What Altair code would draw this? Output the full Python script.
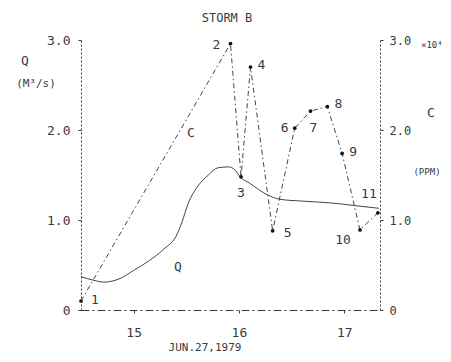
import altair as alt
import pandas as pd

# ---- data ----
Q_TIME = [14.50, 14.62, 14.72, 14.87, 15.00, 15.15, 15.28, 15.42, 15.46, 15.52,
          15.60, 15.71, 15.80, 15.90, 15.96, 16.01, 16.10, 16.27, 16.39, 16.60,
          16.87, 17.10, 17.33]
Q_VALUE = [0.37, 0.33, 0.31, 0.35, 0.44, 0.55, 0.67, 0.86, 0.98, 1.19,
           1.36, 1.50, 1.58, 1.59, 1.56, 1.48, 1.41, 1.28, 1.23, 1.21,
           1.19, 1.16, 1.13]

C_ID = [1, 2, 3, 4, 5, 6, 7, 8, 9, 10, 11]
C_TIME = [14.50, 15.92, 16.02, 16.11, 16.32, 16.53, 16.68, 16.84, 16.98, 17.15, 17.32]
C_VALUE = [0.10, 2.96, 1.48, 2.70, 0.88, 2.02, 2.21, 2.26, 1.74, 0.89, 1.08]  # x10^4 ppm

X_TICKS = [15, 16, 17]
Y_TICKS = [0, 1, 2, 3]

# label offsets (pixels) for the sample numbers
LABEL_DX = [14, -14, 0, 11, 15, -10, 3, 11, 11, -17, -9]
LABEL_DY = [-1, 1, 16, -2, 2, 0, 17, -3, -1, 10, -19]

q_df = pd.DataFrame({"t": Q_TIME, "q": Q_VALUE})
c_df = pd.DataFrame({"id": C_ID, "t": C_TIME, "c": C_VALUE})

FONT = "DejaVu Sans Mono"
INK = "#3a3a3a"

xscale = alt.Scale(domain=[14.5, 17.34], nice=False, zero=False)
yscale = alt.Scale(domain=[0, 3], nice=False)

x_axis = alt.Axis(values=X_TICKS, format="d", title=None, grid=False,
                  domainColor=INK, domainDash=[8, 3, 2, 3], domainWidth=1,
                  tickColor=INK, tickSize=3, labelPadding=13,
                  labelFont=FONT, labelFontSize=13, labelColor=INK)

left_axis = alt.Axis(values=Y_TICKS, title=None, grid=False, orient="left",
                     labelExpr="datum.value == 0 ? '0' : format(datum.value, '.1f')",
                     domainColor=INK, domainDash=[2, 2], domainWidth=1,
                     tickColor=INK, tickSize=3, labelPadding=8,
                     labelFont=FONT, labelFontSize=13, labelColor=INK)

right_axis = alt.Axis(values=Y_TICKS, title=None, grid=False, orient="right",
                      labelExpr="datum.value == 0 ? '0' : format(datum.value, '.1f')",
                      domainColor=INK, domainDash=[2, 2], domainWidth=1,
                      tickColor=INK, tickSize=3, labelPadding=6,
                      labelFont=FONT, labelFontSize=12, labelColor=INK)

X_ENC = alt.X("t:Q", scale=xscale, axis=x_axis)

q_line = alt.Chart(q_df).mark_line(color="#444", strokeWidth=1, interpolate="monotone").encode(
    x=X_ENC,
    y=alt.Y("q:Q", scale=yscale, axis=left_axis),
)

c_line = alt.Chart(c_df).mark_line(color="#444", strokeWidth=1, strokeDash=[5, 3, 1.5, 3]).encode(
    x=X_ENC,
    y=alt.Y("c:Q", scale=yscale, axis=right_axis),
)

c_pts = alt.Chart(c_df).mark_circle(color="#111", size=14, opacity=1).encode(
    x=X_ENC,
    y=alt.Y("c:Q", scale=yscale, axis=None),
)

label_layers = []
for i, cid in enumerate(C_ID):
    label_layers.append(
        alt.Chart(c_df[c_df["id"] == cid]).mark_text(
            font=FONT, fontSize=13, color=INK, dx=LABEL_DX[i], dy=LABEL_DY[i]
        ).encode(
            x=X_ENC,
            y=alt.Y("c:Q", scale=yscale, axis=None),
            text=alt.Text("id:N"),
        )
    )

def note(txt, x, y, size=13, align="center"):
    return alt.Chart(pd.DataFrame({"s": [txt]})).mark_text(
        font=FONT, fontSize=size, color=INK, align=align, baseline="middle"
    ).encode(x=alt.value(x), y=alt.value(y), text="s:N")

notes = [
    note("STORM B", 146, -22, 12),
    note("Q", -56, 21),
    note("(M³/s)", -45, 44, 11),
    note("C", 350, 73),
    note("(PPM)", 346, 132, 9),
    note("×10⁴", 340, 5, 9, "left"),
    note("JUN.27,1979", 124, 308, 11),
    note("C", 110, 93),
    note("Q", 97, 227),
]

chart = alt.layer(q_line, c_line, c_pts, *label_layers, *notes).resolve_scale(
    y="independent"
).properties(
    width=299, height=270,
    autosize=alt.AutoSizeParams(type="none"),
    padding={"left": 73, "top": 32, "right": 63, "bottom": 44},
    background="white",
).configure_view(stroke=None)

chart.save("out.html", embed_options={"renderer": "svg", "actions": False})
